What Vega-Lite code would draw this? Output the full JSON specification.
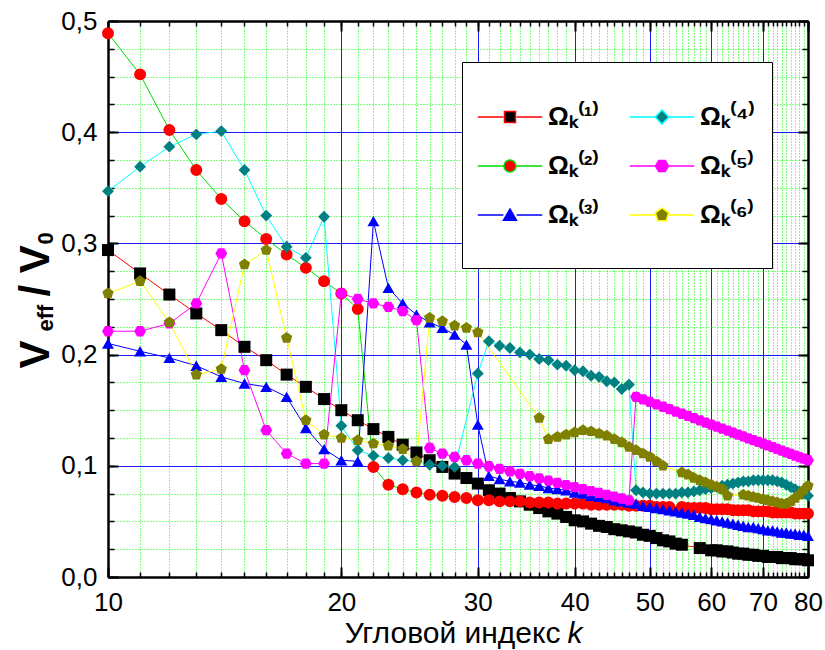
{
  "$schema": "https://vega.github.io/schema/vega-lite/v6.json",
  "autosize": "none",
  "width": 700,
  "height": 556,
  "padding": {"left": 108, "top": 21, "right": 17, "bottom": 73},
  "background": "white",
  "config": {
    "view": {"stroke": null},
    "axis": {"labelFont": "Liberation Sans", "titleFont": "Liberation Sans", "labelColor": "black", "titleColor": "black", "tickColor": "black", "domainColor": "black"},
    "legend": {"symbolFillColor": "black"}
  },
  "data": {"values": [
    {"k":10,"s":"1","v":0.294},{"k":11,"s":"1","v":0.273},{"k":12,"s":"1","v":0.254},{"k":13,"s":"1","v":0.237},{"k":14,"s":"1","v":0.222},{"k":15,"s":"1","v":0.207},{"k":16,"s":"1","v":0.195},{"k":17,"s":"1","v":0.182},{"k":18,"s":"1","v":0.171},{"k":19,"s":"1","v":0.160},{"k":20,"s":"1","v":0.150},{"k":21,"s":"1","v":0.141},{"k":22,"s":"1","v":0.133},{"k":23,"s":"1","v":0.126},{"k":24,"s":"1","v":0.119},{"k":25,"s":"1","v":0.112},{"k":26,"s":"1","v":0.105},{"k":27,"s":"1","v":0.099},{"k":28,"s":"1","v":0.093},{"k":29,"s":"1","v":0.089},{"k":30,"s":"1","v":0.084},{"k":31,"s":"1","v":0.078},{"k":32,"s":"1","v":0.075},{"k":33,"s":"1","v":0.071},{"k":34,"s":"1","v":0.068},{"k":35,"s":"1","v":0.065},{"k":36,"s":"1","v":0.062},{"k":37,"s":"1","v":0.059},{"k":38,"s":"1","v":0.057},{"k":39,"s":"1","v":0.054},{"k":40,"s":"1","v":0.051},{"k":41,"s":"1","v":0.050},{"k":42,"s":"1","v":0.048},{"k":43,"s":"1","v":0.046},{"k":44,"s":"1","v":0.045},{"k":45,"s":"1","v":0.043},{"k":46,"s":"1","v":0.042},{"k":47,"s":"1","v":0.041},{"k":48,"s":"1","v":0.040},{"k":49,"s":"1","v":0.038},{"k":50,"s":"1","v":0.037},{"k":51,"s":"1","v":0.035},{"k":52,"s":"1","v":0.033},{"k":53,"s":"1","v":0.032},{"k":54,"s":"1","v":0.030},{"k":55,"s":"1","v":0.029},{"k":58,"s":"1","v":0.026},{"k":60,"s":"1","v":0.024},{"k":61,"s":"1","v":0.024},{"k":62,"s":"1","v":0.023},{"k":63,"s":"1","v":0.023},{"k":64,"s":"1","v":0.022},{"k":65,"s":"1","v":0.021},{"k":66,"s":"1","v":0.021},{"k":67,"s":"1","v":0.020},{"k":68,"s":"1","v":0.020},{"k":69,"s":"1","v":0.019},{"k":70,"s":"1","v":0.019},{"k":71,"s":"1","v":0.018},{"k":72,"s":"1","v":0.018},{"k":73,"s":"1","v":0.018},{"k":74,"s":"1","v":0.017},{"k":75,"s":"1","v":0.017},{"k":76,"s":"1","v":0.017},{"k":77,"s":"1","v":0.016},{"k":78,"s":"1","v":0.016},{"k":79,"s":"1","v":0.016},{"k":80,"s":"1","v":0.015},
    {"k":10,"s":"2","v":0.489},{"k":11,"s":"2","v":0.452},{"k":12,"s":"2","v":0.402},{"k":13,"s":"2","v":0.366},{"k":14,"s":"2","v":0.340},{"k":15,"s":"2","v":0.320},{"k":16,"s":"2","v":0.304},{"k":17,"s":"2","v":0.290},{"k":18,"s":"2","v":0.278},{"k":19,"s":"2","v":0.266},{"k":20,"s":"2","v":0.255},{"k":21,"s":"2","v":0.241},{"k":22,"s":"2","v":0.099},{"k":23,"s":"2","v":0.083},{"k":24,"s":"2","v":0.079},{"k":25,"s":"2","v":0.076},{"k":26,"s":"2","v":0.074},{"k":27,"s":"2","v":0.073},{"k":28,"s":"2","v":0.072},{"k":29,"s":"2","v":0.071},{"k":30,"s":"2","v":0.069},{"k":31,"s":"2","v":0.069},{"k":32,"s":"2","v":0.068},{"k":33,"s":"2","v":0.068},{"k":34,"s":"2","v":0.068},{"k":35,"s":"2","v":0.067},{"k":36,"s":"2","v":0.067},{"k":37,"s":"2","v":0.067},{"k":38,"s":"2","v":0.066},{"k":39,"s":"2","v":0.066},{"k":40,"s":"2","v":0.066},{"k":41,"s":"2","v":0.066},{"k":42,"s":"2","v":0.065},{"k":43,"s":"2","v":0.065},{"k":44,"s":"2","v":0.065},{"k":45,"s":"2","v":0.065},{"k":46,"s":"2","v":0.065},{"k":47,"s":"2","v":0.064},{"k":48,"s":"2","v":0.064},{"k":49,"s":"2","v":0.064},{"k":50,"s":"2","v":0.064},{"k":51,"s":"2","v":0.063},{"k":52,"s":"2","v":0.063},{"k":53,"s":"2","v":0.063},{"k":55,"s":"2","v":0.063},{"k":56,"s":"2","v":0.062},{"k":57,"s":"2","v":0.062},{"k":58,"s":"2","v":0.062},{"k":59,"s":"2","v":0.062},{"k":60,"s":"2","v":0.061},{"k":61,"s":"2","v":0.061},{"k":62,"s":"2","v":0.061},{"k":63,"s":"2","v":0.061},{"k":64,"s":"2","v":0.060},{"k":65,"s":"2","v":0.060},{"k":66,"s":"2","v":0.060},{"k":67,"s":"2","v":0.060},{"k":68,"s":"2","v":0.059},{"k":69,"s":"2","v":0.059},{"k":70,"s":"2","v":0.059},{"k":71,"s":"2","v":0.059},{"k":72,"s":"2","v":0.058},{"k":73,"s":"2","v":0.058},{"k":74,"s":"2","v":0.058},{"k":75,"s":"2","v":0.058},{"k":76,"s":"2","v":0.058},{"k":77,"s":"2","v":0.057},{"k":78,"s":"2","v":0.057},{"k":79,"s":"2","v":0.057},{"k":80,"s":"2","v":0.057},
    {"k":10,"s":"3","v":0.210},{"k":11,"s":"3","v":0.203},{"k":12,"s":"3","v":0.197},{"k":13,"s":"3","v":0.190},{"k":14,"s":"3","v":0.180},{"k":15,"s":"3","v":0.174},{"k":16,"s":"3","v":0.171},{"k":17,"s":"3","v":0.162},{"k":18,"s":"3","v":0.134},{"k":19,"s":"3","v":0.115},{"k":20,"s":"3","v":0.105},{"k":21,"s":"3","v":0.104},{"k":22,"s":"3","v":0.320},{"k":23,"s":"3","v":0.260},{"k":24,"s":"3","v":0.246},{"k":25,"s":"3","v":0.236},{"k":26,"s":"3","v":0.229},{"k":27,"s":"3","v":0.224},{"k":28,"s":"3","v":0.218},{"k":29,"s":"3","v":0.209},{"k":30,"s":"3","v":0.137},{"k":31,"s":"3","v":0.091},{"k":32,"s":"3","v":0.088},{"k":33,"s":"3","v":0.086},{"k":34,"s":"3","v":0.085},{"k":35,"s":"3","v":0.083},{"k":36,"s":"3","v":0.082},{"k":37,"s":"3","v":0.080},{"k":38,"s":"3","v":0.079},{"k":39,"s":"3","v":0.078},{"k":40,"s":"3","v":0.076},{"k":41,"s":"3","v":0.075},{"k":42,"s":"3","v":0.073},{"k":43,"s":"3","v":0.072},{"k":44,"s":"3","v":0.071},{"k":45,"s":"3","v":0.069},{"k":46,"s":"3","v":0.068},{"k":47,"s":"3","v":0.067},{"k":48,"s":"3","v":0.066},{"k":49,"s":"3","v":0.064},{"k":50,"s":"3","v":0.063},{"k":51,"s":"3","v":0.062},{"k":52,"s":"3","v":0.061},{"k":53,"s":"3","v":0.060},{"k":54,"s":"3","v":0.059},{"k":55,"s":"3","v":0.058},{"k":56,"s":"3","v":0.057},{"k":57,"s":"3","v":0.056},{"k":58,"s":"3","v":0.054},{"k":59,"s":"3","v":0.053},{"k":60,"s":"3","v":0.052},{"k":61,"s":"3","v":0.051},{"k":62,"s":"3","v":0.050},{"k":63,"s":"3","v":0.049},{"k":64,"s":"3","v":0.048},{"k":65,"s":"3","v":0.047},{"k":66,"s":"3","v":0.046},{"k":67,"s":"3","v":0.045},{"k":68,"s":"3","v":0.045},{"k":69,"s":"3","v":0.044},{"k":70,"s":"3","v":0.043},{"k":71,"s":"3","v":0.042},{"k":72,"s":"3","v":0.042},{"k":73,"s":"3","v":0.041},{"k":74,"s":"3","v":0.040},{"k":75,"s":"3","v":0.040},{"k":76,"s":"3","v":0.039},{"k":77,"s":"3","v":0.039},{"k":78,"s":"3","v":0.038},{"k":79,"s":"3","v":0.038},{"k":80,"s":"3","v":0.037},
    {"k":10,"s":"4","v":0.347},{"k":11,"s":"4","v":0.369},{"k":12,"s":"4","v":0.387},{"k":13,"s":"4","v":0.398},{"k":14,"s":"4","v":0.401},{"k":15,"s":"4","v":0.366},{"k":16,"s":"4","v":0.325},{"k":17,"s":"4","v":0.297},{"k":18,"s":"4","v":0.287},{"k":19,"s":"4","v":0.324},{"k":20,"s":"4","v":0.136},{"k":21,"s":"4","v":0.114},{"k":22,"s":"4","v":0.109},{"k":23,"s":"4","v":0.107},{"k":24,"s":"4","v":0.105},{"k":25,"s":"4","v":0.104},{"k":26,"s":"4","v":0.101},{"k":27,"s":"4","v":0.100},{"k":28,"s":"4","v":0.099},{"k":30,"s":"4","v":0.183},{"k":31,"s":"4","v":0.212},{"k":32,"s":"4","v":0.208},{"k":33,"s":"4","v":0.206},{"k":34,"s":"4","v":0.202},{"k":35,"s":"4","v":0.200},{"k":36,"s":"4","v":0.196},{"k":37,"s":"4","v":0.195},{"k":38,"s":"4","v":0.191},{"k":39,"s":"4","v":0.190},{"k":40,"s":"4","v":0.186},{"k":41,"s":"4","v":0.185},{"k":42,"s":"4","v":0.181},{"k":43,"s":"4","v":0.180},{"k":44,"s":"4","v":0.176},{"k":45,"s":"4","v":0.175},{"k":46,"s":"4","v":0.169},{"k":47,"s":"4","v":0.173},{"k":48,"s":"4","v":0.078},{"k":49,"s":"4","v":0.076},{"k":50,"s":"4","v":0.075},{"k":51,"s":"4","v":0.075},{"k":52,"s":"4","v":0.075},{"k":53,"s":"4","v":0.075},{"k":54,"s":"4","v":0.075},{"k":55,"s":"4","v":0.076},{"k":56,"s":"4","v":0.076},{"k":57,"s":"4","v":0.077},{"k":58,"s":"4","v":0.078},{"k":59,"s":"4","v":0.079},{"k":60,"s":"4","v":0.080},{"k":61,"s":"4","v":0.081},{"k":62,"s":"4","v":0.082},{"k":63,"s":"4","v":0.083},{"k":64,"s":"4","v":0.084},{"k":65,"s":"4","v":0.085},{"k":66,"s":"4","v":0.086},{"k":67,"s":"4","v":0.086},{"k":68,"s":"4","v":0.087},{"k":69,"s":"4","v":0.087},{"k":70,"s":"4","v":0.087},{"k":71,"s":"4","v":0.087},{"k":72,"s":"4","v":0.087},{"k":73,"s":"4","v":0.086},{"k":74,"s":"4","v":0.085},{"k":75,"s":"4","v":0.083},{"k":76,"s":"4","v":0.081},{"k":77,"s":"4","v":0.079},{"k":78,"s":"4","v":0.077},{"k":79,"s":"4","v":0.075},{"k":80,"s":"4","v":0.073},
    {"k":10,"s":"5","v":0.221},{"k":11,"s":"5","v":0.221},{"k":12,"s":"5","v":0.228},{"k":13,"s":"5","v":0.246},{"k":14,"s":"5","v":0.291},{"k":15,"s":"5","v":0.186},{"k":16,"s":"5","v":0.132},{"k":17,"s":"5","v":0.111},{"k":18,"s":"5","v":0.102},{"k":19,"s":"5","v":0.102},{"k":20,"s":"5","v":0.255},{"k":21,"s":"5","v":0.250},{"k":22,"s":"5","v":0.246},{"k":23,"s":"5","v":0.243},{"k":24,"s":"5","v":0.239},{"k":25,"s":"5","v":0.231},{"k":26,"s":"5","v":0.116},{"k":27,"s":"5","v":0.111},{"k":28,"s":"5","v":0.108},{"k":29,"s":"5","v":0.105},{"k":30,"s":"5","v":0.102},{"k":31,"s":"5","v":0.0996},{"k":32,"s":"5","v":0.0973},{"k":33,"s":"5","v":0.095},{"k":34,"s":"5","v":0.0928},{"k":35,"s":"5","v":0.0907},{"k":36,"s":"5","v":0.0886},{"k":37,"s":"5","v":0.0866},{"k":38,"s":"5","v":0.0846},{"k":39,"s":"5","v":0.0827},{"k":40,"s":"5","v":0.0809},{"k":41,"s":"5","v":0.0791},{"k":42,"s":"5","v":0.0773},{"k":43,"s":"5","v":0.0756},{"k":44,"s":"5","v":0.0739},{"k":45,"s":"5","v":0.0722},{"k":46,"s":"5","v":0.0706},{"k":47,"s":"5","v":0.069},{"k":48,"s":"5","v":0.162},{"k":49,"s":"5","v":0.1597},{"k":50,"s":"5","v":0.1574},{"k":51,"s":"5","v":0.1552},{"k":52,"s":"5","v":0.1531},{"k":53,"s":"5","v":0.1509},{"k":54,"s":"5","v":0.1488},{"k":55,"s":"5","v":0.1468},{"k":56,"s":"5","v":0.1448},{"k":57,"s":"5","v":0.1428},{"k":58,"s":"5","v":0.1409},{"k":59,"s":"5","v":0.1389},{"k":60,"s":"5","v":0.1371},{"k":61,"s":"5","v":0.1352},{"k":62,"s":"5","v":0.1334},{"k":63,"s":"5","v":0.1316},{"k":64,"s":"5","v":0.1299},{"k":65,"s":"5","v":0.1281},{"k":66,"s":"5","v":0.1264},{"k":67,"s":"5","v":0.1247},{"k":68,"s":"5","v":0.1231},{"k":69,"s":"5","v":0.1215},{"k":70,"s":"5","v":0.1199},{"k":71,"s":"5","v":0.1183},{"k":72,"s":"5","v":0.1167},{"k":73,"s":"5","v":0.1152},{"k":74,"s":"5","v":0.1137},{"k":75,"s":"5","v":0.1121},{"k":76,"s":"5","v":0.1107},{"k":77,"s":"5","v":0.1092},{"k":78,"s":"5","v":0.1078},{"k":79,"s":"5","v":0.1064},{"k":80,"s":"5","v":0.105},
    {"k":10,"s":"6","v":0.255},{"k":11,"s":"6","v":0.266},{"k":12,"s":"6","v":0.229},{"k":13,"s":"6","v":0.182},{"k":14,"s":"6","v":0.187},{"k":15,"s":"6","v":0.281},{"k":16,"s":"6","v":0.294},{"k":17,"s":"6","v":0.215},{"k":18,"s":"6","v":0.141},{"k":19,"s":"6","v":0.128},{"k":20,"s":"6","v":0.125},{"k":21,"s":"6","v":0.123},{"k":22,"s":"6","v":0.120},{"k":23,"s":"6","v":0.118},{"k":24,"s":"6","v":0.115},{"k":25,"s":"6","v":0.104},{"k":26,"s":"6","v":0.233},{"k":27,"s":"6","v":0.230},{"k":28,"s":"6","v":0.226},{"k":29,"s":"6","v":0.224},{"k":30,"s":"6","v":0.220},{"k":36,"s":"6","v":0.143},{"k":37,"s":"6","v":0.124},{"k":38,"s":"6","v":0.126},{"k":39,"s":"6","v":0.128},{"k":40,"s":"6","v":0.130},{"k":41,"s":"6","v":0.132},{"k":42,"s":"6","v":0.131},{"k":43,"s":"6","v":0.129},{"k":44,"s":"6","v":0.127},{"k":45,"s":"6","v":0.124},{"k":46,"s":"6","v":0.121},{"k":47,"s":"6","v":0.117},{"k":48,"s":"6","v":0.114},{"k":49,"s":"6","v":0.111},{"k":50,"s":"6","v":0.108},{"k":51,"s":"6","v":0.104},{"k":52,"s":"6","v":0.100},{"k":55,"s":"6","v":0.094},{"k":56,"s":"6","v":0.092},{"k":57,"s":"6","v":0.089},{"k":58,"s":"6","v":0.087},{"k":59,"s":"6","v":0.085},{"k":60,"s":"6","v":0.083},{"k":61,"s":"6","v":0.081},{"k":62,"s":"6","v":0.079},{"k":63,"s":"6","v":0.073},{"k":66,"s":"6","v":0.074},{"k":67,"s":"6","v":0.073},{"k":68,"s":"6","v":0.072},{"k":69,"s":"6","v":0.071},{"k":70,"s":"6","v":0.070},{"k":71,"s":"6","v":0.069},{"k":72,"s":"6","v":0.068},{"k":73,"s":"6","v":0.067},{"k":74,"s":"6","v":0.066},{"k":75,"s":"6","v":0.066},{"k":76,"s":"6","v":0.068},{"k":77,"s":"6","v":0.071},{"k":78,"s":"6","v":0.074},{"k":79,"s":"6","v":0.078},{"k":80,"s":"6","v":0.082}
  ]},
  "resolve": {
    "axis": {"x": "independent", "y": "independent"},
    "scale": {"fill": "independent", "stroke": "independent", "shape": "independent", "size": "independent"},
    "legend": {"fill": "independent", "stroke": "independent", "shape": "independent", "size": "independent"}
  },
  "layer": [
    {
      "data": {"values": [{"k": 10, "v": 0}]},
      "mark": {"type": "point", "opacity": 0},
      "encoding": {
        "x": {"field": "k", "type": "quantitative", "scale": {"type": "log", "domain": [10, 80], "nice": false},
          "axis": {"orient": "bottom", "values": [10,11,12,13,14,15,16,17,18,19,20,21,22,23,24,25,26,27,28,29,30,31,32,33,34,35,36,37,38,39,40,41,42,43,44,45,46,47,48,49,50,51,52,53,54,55,56,57,58,59,60,61,62,63,64,65,66,67,68,69,70,71,72,73,74,75,76,77,78,79,80],
            "grid": true, "gridColor": "#00ff00", "gridDash": [1, 2], "gridWidth": 1, "gridOpacity": 1,
            "ticks": true, "tickSize": -5, "tickWidth": 1.5, "labels": false, "domain": false, "title": null}},
        "y": {"field": "v", "type": "quantitative", "scale": {"domain": [0, 0.5], "nice": false, "zero": false},
          "axis": {"orient": "left", "values": [0,0.025,0.05,0.075,0.1,0.125,0.15,0.175,0.2,0.225,0.25,0.275,0.3,0.325,0.35,0.375,0.4,0.425,0.45,0.475,0.5],
            "grid": true, "gridColor": "#00ff00", "gridDash": [1, 2], "gridWidth": 1, "gridOpacity": 1,
            "ticks": true, "tickSize": -6, "tickWidth": 1.5, "labels": false, "domain": false, "title": null}}
      }
    },
    {
      "data": {"values": [{"k": 10, "v": 0}]},
      "mark": {"type": "point", "opacity": 0},
      "encoding": {
        "x": {"field": "k", "type": "quantitative", "scale": {"type": "log", "domain": [10, 80], "nice": false},
          "axis": {"orient": "bottom", "values": [10,20,30,40,50,60,70,80],
            "grid": true, "gridColor": "#1a1aff", "gridWidth": 1, "gridOpacity": 1,
            "ticks": true, "tickSize": -10, "tickWidth": 2, "labels": false, "domain": false, "title": null}},
        "y": {"field": "v", "type": "quantitative", "scale": {"domain": [0, 0.5], "nice": false, "zero": false},
          "axis": {"orient": "left", "values": [0,0.1,0.2,0.3,0.4,0.5],
            "grid": true, "gridColor": "#1a1aff", "gridWidth": 1, "gridOpacity": 1,
            "ticks": true, "tickSize": -10, "tickWidth": 2, "labels": false, "domain": false, "title": null}}
      }
    },
    {
      "data": {"values": [{"k": 10, "v": 0}]},
      "mark": {"type": "point", "opacity": 0},
      "encoding": {
        "x": {"field": "k", "type": "quantitative", "scale": {"type": "log", "domain": [10, 80], "nice": false},
          "axis": {"orient": "top", "values": [10,11,12,13,14,15,16,17,18,19,20,21,22,23,24,25,26,27,28,29,30,31,32,33,34,35,36,37,38,39,40,41,42,43,44,45,46,47,48,49,50,51,52,53,54,55,56,57,58,59,60,61,62,63,64,65,66,67,68,69,70,71,72,73,74,75,76,77,78,79,80],
            "grid": false, "ticks": true, "tickSize": -5, "tickWidth": 1.5, "labels": false, "domain": false, "title": null}},
        "y": {"field": "v", "type": "quantitative", "scale": {"domain": [0, 0.5], "nice": false, "zero": false},
          "axis": {"orient": "right", "values": [0,0.025,0.05,0.075,0.1,0.125,0.15,0.175,0.2,0.225,0.25,0.275,0.3,0.325,0.35,0.375,0.4,0.425,0.45,0.475,0.5],
            "grid": false, "ticks": true, "tickSize": -6, "tickWidth": 1.5, "labels": false, "domain": false, "title": null}}
      }
    },
    {
      "data": {"values": [{"k": 10, "v": 0}]},
      "mark": {"type": "point", "opacity": 0},
      "encoding": {
        "x": {"field": "k", "type": "quantitative", "scale": {"type": "log", "domain": [10, 80], "nice": false},
          "axis": {"orient": "top", "values": [10,20,30,40,50,60,70,80],
            "grid": false, "ticks": true, "tickSize": -10, "tickWidth": 2, "labels": false, "domain": true, "domainWidth": 2.5, "title": null}},
        "y": {"field": "v", "type": "quantitative", "scale": {"domain": [0, 0.5], "nice": false, "zero": false},
          "axis": {"orient": "right", "values": [0,0.1,0.2,0.3,0.4,0.5],
            "grid": false, "ticks": true, "tickSize": -10, "tickWidth": 2, "labels": false, "domain": true, "domainWidth": 2.5, "title": null}}
      }
    },
    {
      "mark": {"type": "line", "strokeWidth": 1},
      "encoding": {
        "x": {"field": "k", "type": "quantitative", "scale": {"type": "log", "domain": [10, 80], "nice": false},
          "axis": {"orient": "bottom", "values": [10,20,30,40,50,60,70,80], "grid": false, "ticks": false,
            "labels": true, "labelFontSize": 26, "labelPadding": 12, "labelFlush": false, "labelOverlap": false, "labelBound": false,
            "domain": true, "domainWidth": 2.5,
            "title": "Угловой индекс", "titleFontSize": 30, "titleFontWeight": "normal", "titleX": 452, "titleY": 65, "titleAlign": "right", "titleBaseline": "alphabetic"}},
        "y": {"field": "v", "type": "quantitative", "scale": {"domain": [0, 0.5], "nice": false, "zero": false},
          "axis": {"orient": "left", "values": [0,0.1,0.2,0.3,0.4,0.5], "grid": false, "ticks": false,
            "labels": true, "labelFontSize": 26, "labelPadding": 11, "labelExpr": "replace(format(datum.value, '.1f'), '.', ',')",
            "domain": true, "domainWidth": 2.5,
            "title": "V", "titleFontSize": 42, "titleFontWeight": "bold", "titleAngle": -90, "titleX": -60, "titleY": 347, "titleAlign": "left", "titleBaseline": "alphabetic"}},
        "detail": {"field": "s"},
        "stroke": {"field": "s", "type": "nominal", "scale": {"domain": ["1","2","3","4","5","6"], "range": ["#ff0000","#00dd00","#0000ff","#00ffff","#ff00ff","#ffff00"]}, "legend": null}
      }
    },
    {
      "mark": {"type": "point", "filled": true, "opacity": 1, "strokeWidth": 0},
      "encoding": {
        "x": {"field": "k", "type": "quantitative", "scale": {"type": "log", "domain": [10, 80], "nice": false},
          "axis": {"orient": "bottom", "grid": false, "ticks": false, "labels": false, "domain": false,
            "title": "k", "titleFontSize": 30, "titleFontWeight": "normal", "titleFontStyle": "italic", "titleX": 459, "titleY": 65, "titleAlign": "left", "titleBaseline": "alphabetic"}},
        "y": {"field": "v", "type": "quantitative", "scale": {"domain": [0, 0.5], "nice": false, "zero": false},
          "axis": {"orient": "left", "grid": false, "ticks": false, "labels": false, "domain": false,
            "title": "eff", "titleFontSize": 22, "titleFontWeight": "bold", "titleAngle": -90, "titleX": -56, "titleY": 310, "titleAlign": "left", "titleBaseline": "alphabetic"}},
        "fill": {"field": "s", "type": "nominal", "scale": {"domain": ["1","2","3","4","5","6"], "range": ["#000000","#ff0000","#0000ff","#008080","#ff00ff","#808000"]}, "legend": null},
        "shape": {"field": "s", "type": "nominal", "scale": {"domain": ["1","2","3","4","5","6"], "range": ["square","circle","triangle-up","diamond","M-1,0L-0.5,-0.866L0.5,-0.866L1,0L0.5,0.866L-0.5,0.866Z","M0,-1L0.951,-0.309L0.588,0.809L-0.588,0.809L-0.951,-0.309Z"]}, "legend": null},
        "size": {"field": "s", "type": "nominal", "scale": {"domain": ["1","2","3","4","5","6"], "range": [144, 140, 180, 200, 190, 250]}, "legend": null}
      }
    },
    {
      "data": {"values": [
        {"k": 10, "v": 0, "n": "L1"}, {"k": 10, "v": 0, "n": "L2"}, {"k": 10, "v": 0, "n": "L3"},
        {"k": 10, "v": 0, "n": "L4"}, {"k": 10, "v": 0, "n": "L5"}, {"k": 10, "v": 0, "n": "L6"}
      ]},
      "mark": {"type": "point", "filled": true, "opacity": 0, "size": 196, "strokeWidth": 1.5},
      "encoding": {
        "x": {"field": "k", "type": "quantitative", "scale": {"type": "log", "domain": [10, 80], "nice": false}, "axis": null},
        "y": {"field": "v", "type": "quantitative", "scale": {"domain": [0, 0.5], "nice": false, "zero": false},
          "axis": {"orient": "left", "grid": false, "ticks": false, "labels": false, "domain": false,
            "title": "/ V", "titleFontSize": 42, "titleFontWeight": "bold", "titleAngle": -90, "titleX": -60, "titleY": 275, "titleAlign": "left", "titleBaseline": "alphabetic"}},
        "fill": {"field": "n", "type": "nominal", "scale": {"domain": ["L1","L2","L3","L4","L5","L6"], "range": ["#000000","#ff0000","#0000ff","#008080","#ff00ff","#808000"]},
          "legend": {
            "orient": "none", "legendX": 354, "legendY": 41, "columns": 2, "direction": "vertical",
            "title": " ", "titleFontSize": 12, "titlePadding": 13,
            "fillColor": "white", "strokeColor": "black", "padding": 17,
            "rowPadding": -23, "columnPadding": 27,
            "labelFont": "Liberation Sans", "labelFontSize": 26, "labelFontWeight": "bold", "labelColor": "black", "labelOffset": 25, "labelLimit": 0,
            "labelExpr": "'Ωₖ⁽' + (datum.value === 'L1' ? '¹' : datum.value === 'L2' ? '²' : datum.value === 'L3' ? '³' : datum.value === 'L4' ? '⁴' : datum.value === 'L5' ? '⁵' : '⁶') + '⁾'",
            "symbolSize": 196, "symbolStrokeWidth": 1.5, "symbolOpacity": 1, "symbolOffset": 18
          }},
        "stroke": {"field": "n", "type": "nominal", "scale": {"domain": ["L1","L2","L3","L4","L5","L6"], "range": ["#ff0000","#00dd00","#0000ff","#00ffff","#ff00ff","#ffff00"]}},
        "shape": {"field": "n", "type": "nominal", "scale": {"domain": ["L1","L2","L3","L4","L5","L6"], "range": [
          "M-4.6,0H-0.95M0.95,0H4.6M0,-4.7M0,4.7M-0.79,-0.79H0.79V0.79H-0.79Z",
          "M-4.6,0H-0.95M0.95,0H4.6M0,-4.7M0,4.7M-0.86,0A0.86,0.86,0,1,0,0.86,0A0.86,0.86,0,1,0,-0.86,0Z",
          "M-4.6,0H-0.95M0.95,0H4.6M0,-4.7M0,4.7M0,-0.85L0.93,0.75L-0.93,0.75Z",
          "M-4.6,0H-0.95M0.95,0H4.6M0,-4.7M0,4.7M0,-1L0.95,0L0,1L-0.95,0Z",
          "M-4.6,0H-0.95M0.95,0H4.6M0,-4.7M0,4.7M-0.93,0L-0.465,-0.8L0.465,-0.8L0.93,0L0.465,0.8L-0.465,0.8Z",
          "M-4.6,0H-0.95M0.95,0H4.6M0,-4.7M0,4.7M0,-1L0.95,-0.31L0.59,0.81L-0.59,0.81L-0.95,-0.31Z"
        ]}}
      }
    },
    {
      "data": {"values": [{"k": 10, "v": 0}]},
      "mark": {"type": "point", "opacity": 0},
      "encoding": {
        "x": {"field": "k", "type": "quantitative", "scale": {"type": "log", "domain": [10, 80], "nice": false}, "axis": null},
        "y": {"field": "v", "type": "quantitative", "scale": {"domain": [0, 0.5], "nice": false, "zero": false},
          "axis": {"orient": "left", "grid": false, "ticks": false, "labels": false, "domain": false,
            "title": "0", "titleFontSize": 22, "titleFontWeight": "bold", "titleAngle": -90, "titleX": -56, "titleY": 223, "titleAlign": "left", "titleBaseline": "alphabetic"}}
      }
    }
  ]
}
